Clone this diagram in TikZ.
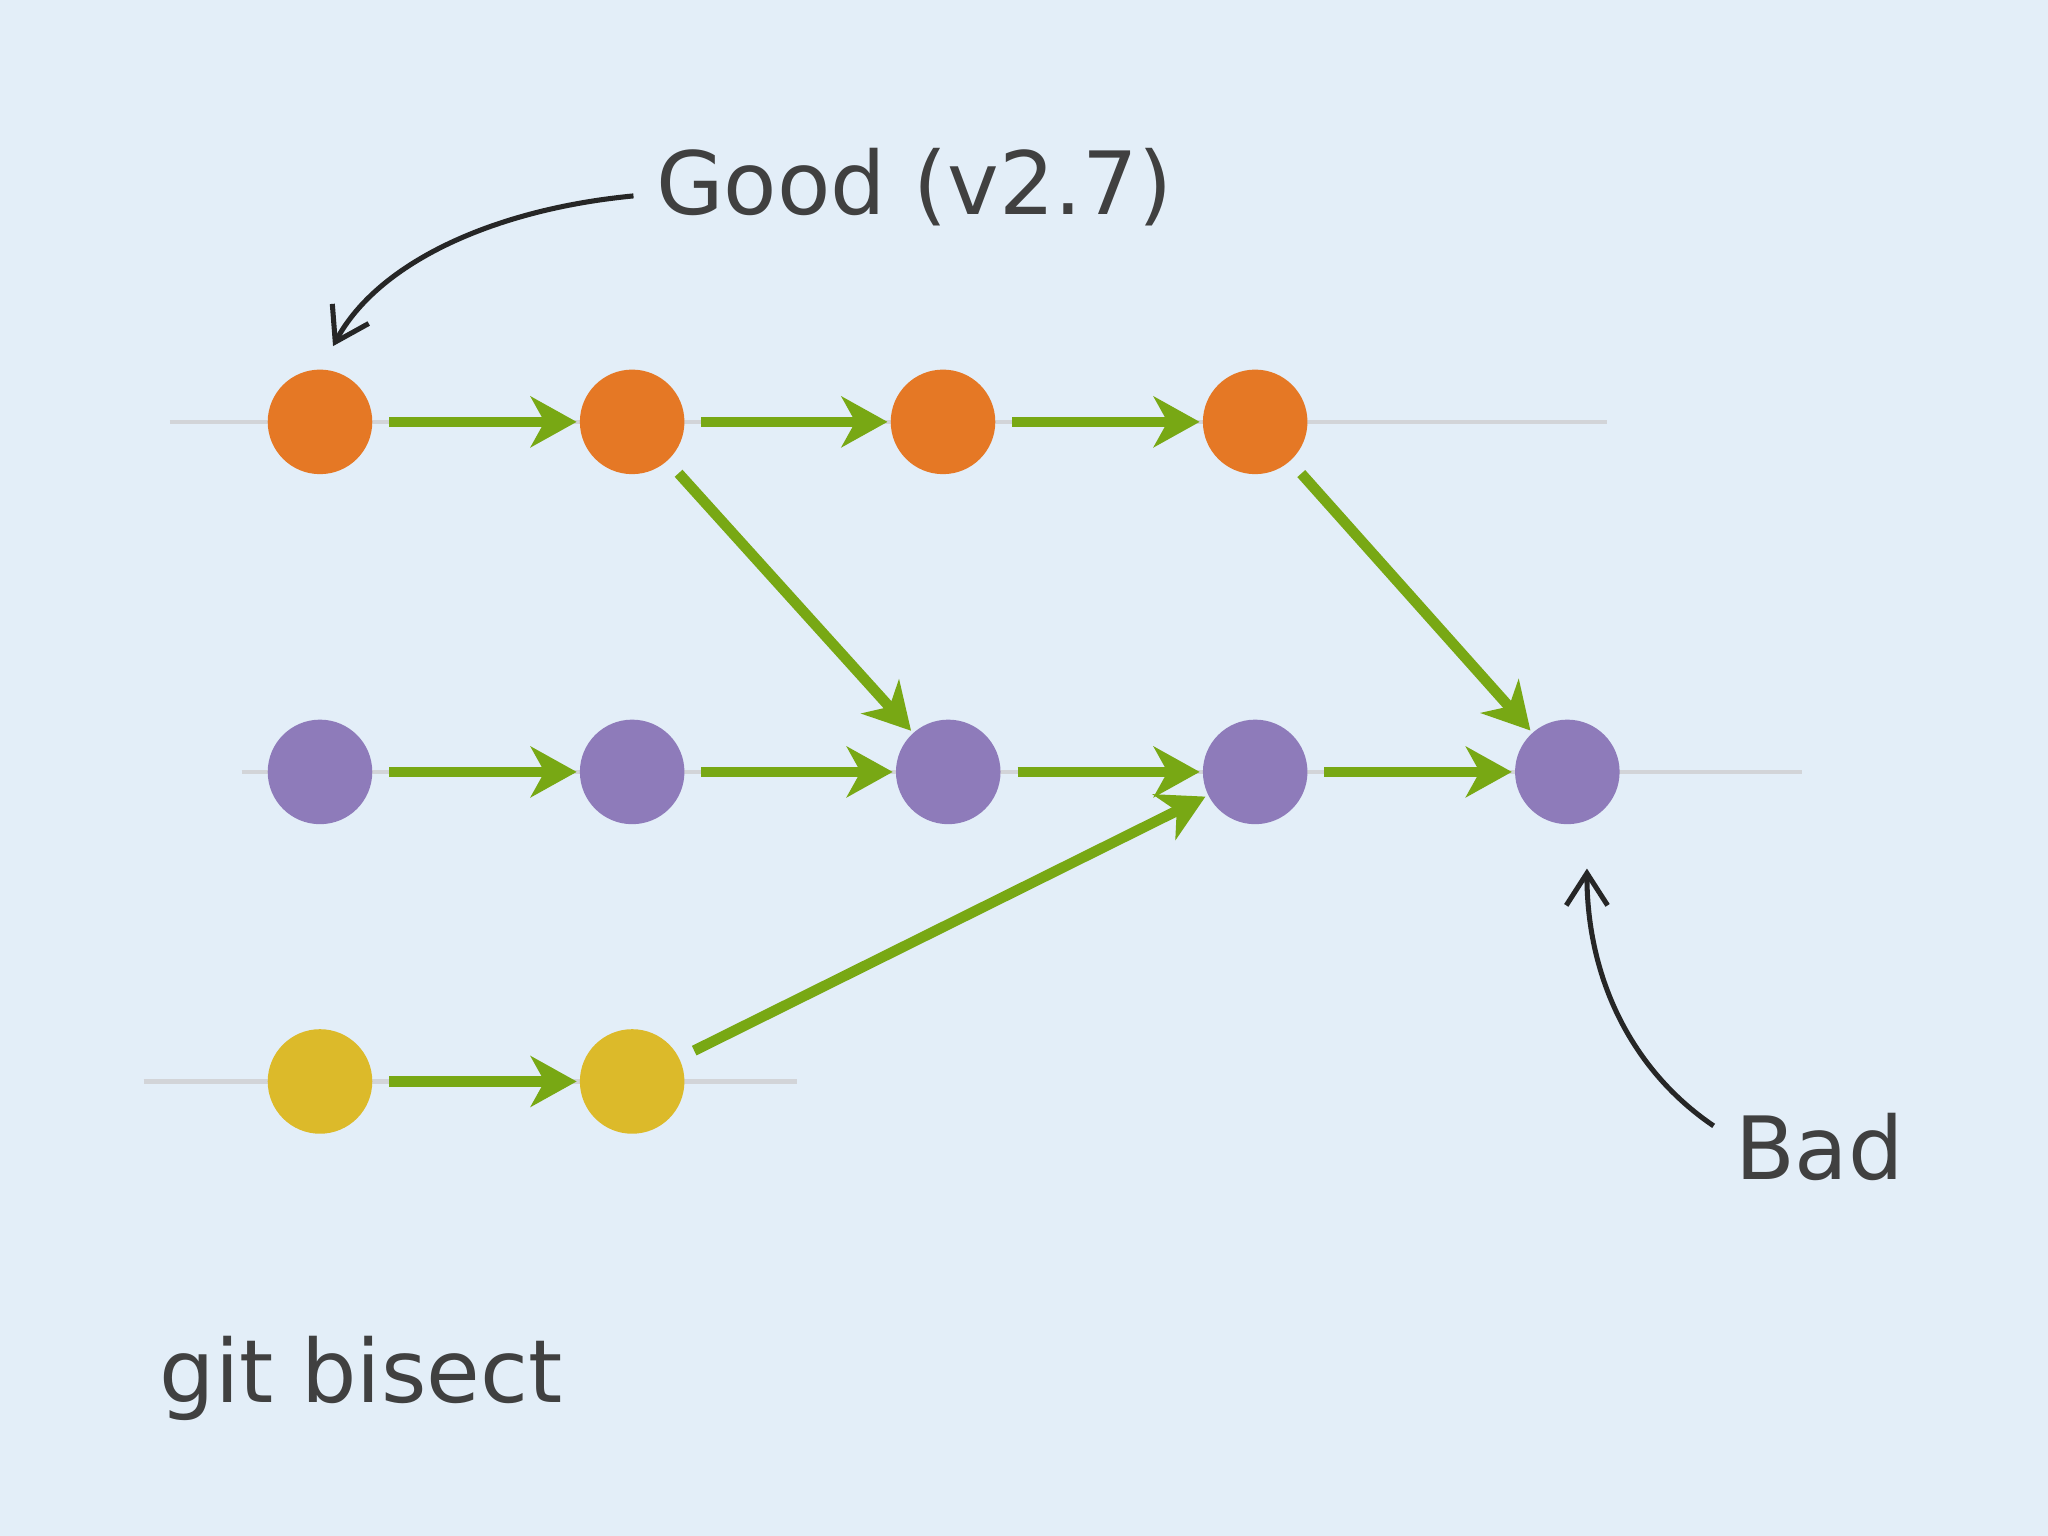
\documentclass[tikz,border=0pt]{standalone}
\usepackage{fontspec}
\setmainfont{DejaVu Sans}
\usetikzlibrary{arrows.meta}
\definecolor{bgblue}{HTML}{E3EEF8}
\definecolor{cgood}{HTML}{E57825}
\definecolor{cmid}{HTML}{8E7BBA}
\definecolor{cside}{HTML}{DCBA2A}
\definecolor{cgreen}{HTML}{78A814}
\definecolor{ctrack}{HTML}{D2D4D8}
\begin{document}
\begin{tikzpicture}[x=0.01cm,y=-0.01cm,
    commit/.style={circle,minimum size=0.8cm,inner sep=0pt},
    link/.style={draw=cgreen,line width=2.3pt,-{Stealth[length=10pt,width=11pt,inset=3pt]},shorten <=3.5pt,shorten >=0.5pt},
    note/.style={font=\fontsize{19}{23}\selectfont,text=black!75},
    hand/.style={black!85,line width=1.1pt,-{Straight Barb[length=7pt,width=9pt]}}]
  \fill[bgblue](0,0)rectangle(1568,1176);
  \useasboundingbox(0,0)rectangle(1568,1176);
  % tracks
  \draw[ctrack,line width=1pt](130,323)--(1230,323);
  \draw[ctrack,line width=1pt](185,591)--(1380,591);
  \draw[ctrack,line width=1pt](110,828)--(610,828);
  % commits
  \foreach \i/\x in {1/245,2/484,3/722,4/961}
    \node[commit,fill=cgood](g\i)at(\x,323){};
  \foreach \i/\x in {1/245,2/484,3/726,4/961,5/1200}
    \node[commit,fill=cmid](m\i)at(\x,591){};
  \foreach \i/\x in {1/245,2/484}
    \node[commit,fill=cside](s\i)at(\x,828){};
  % links
  \foreach \a/\b in {g1/g2,g2/g3,g3/g4,m1/m2,m2/m3,m3/m4,m4/m5,s1/s2,g2/m3,g4/m5,s2/m4}
    \draw[link](\a)--(\b);
  % labels
  \node[note](good)at(700,143){Good (v2.7)};
  \node[note](bad)at(1393,878){Bad};
  \node[note,anchor=west](title)at(110,1055){git bisect};
  \coordinate(goodtip)at(255,265);
  \coordinate(badtip)at(1215,665);
  \draw[hand](485,150)..controls(380,160)and(290,200)..(goodtip);
  \draw[hand](1312,862)..controls(1250,820)and(1215,750)..(badtip);
\end{tikzpicture}
\end{document}
